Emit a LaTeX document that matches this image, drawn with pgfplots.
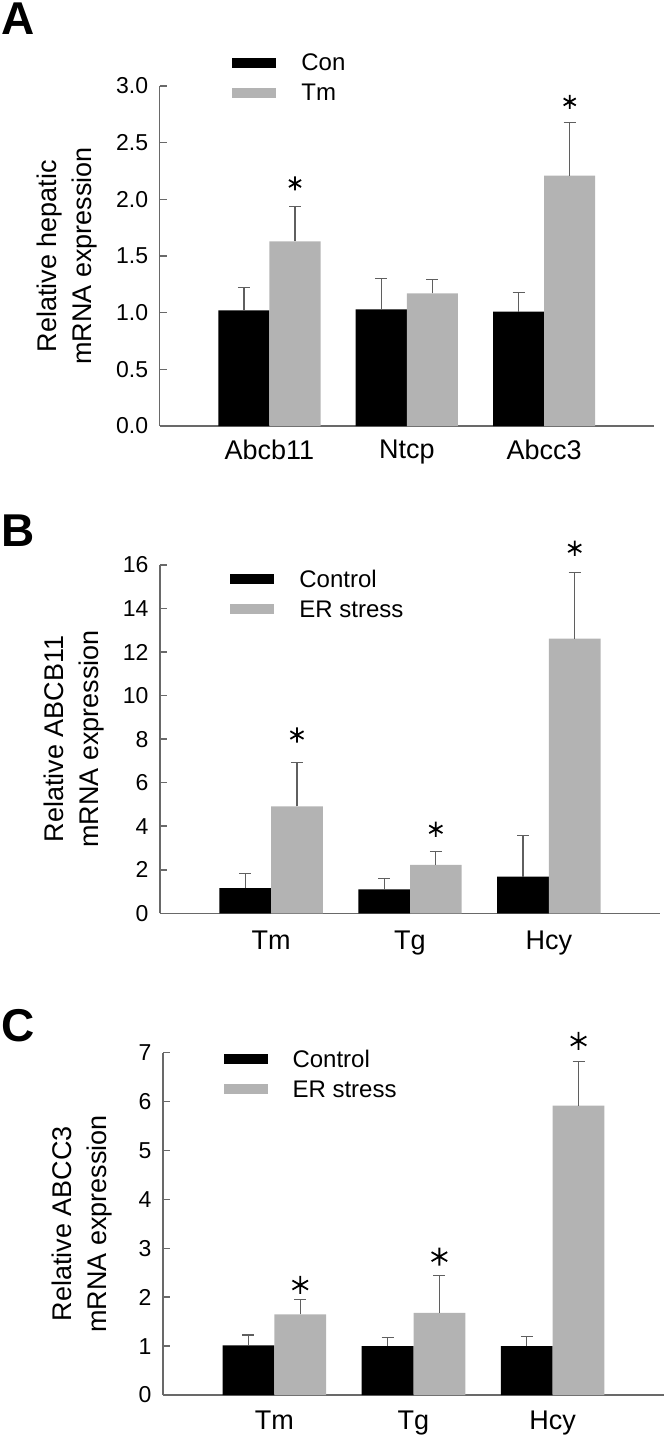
\documentclass[border=0pt]{standalone}
\usepackage{fontspec}
\setmainfont{Liberation Sans}
\usepackage{pgfplots}
\pgfplotsset{compat=1.18}

\definecolor{bargray}{RGB}{179,179,179}
\definecolor{axisgray}{RGB}{105,105,105}
\definecolor{errgray}{RGB}{95,95,95}

\pgfplotsset{
  panel/.style={
    scale only axis, anchor=south west,
    xmin=-0.8, xmax=2.8, ymin=0,
    axis x line=bottom, axis y line=left,
    axis line style={-, color=axisgray, line width=0.75pt},
    xtick={0,1,2}, xtick style={draw=none},
    ytick style={color=axisgray, line width=0.75pt},
    tick align=inside, major tick length=3.5pt,
    clip=false,
    yticklabel style={font=\fontsize{11.5}{13}\selectfont, /pgf/number format/assume math mode=true, xshift=-2.2pt},
    xticklabel style={font=\fontsize{13.5}{16}\selectfont},
    ylabel style={font=\fontsize{13.5}{17.5}\selectfont, align=center, anchor=center},
    legend cell align=left,
    legend style={draw=none, fill=none, inner sep=0pt, anchor=north west,
      row sep=3pt, column sep=12.5pt, font=\fontsize{12}{14}\selectfont,
      nodes={inner sep=0pt, text height=9pt, text depth=3pt}},
    legend image code/.code={\fill[##1] (0pt,-1.5pt) rectangle (22pt,3.5pt);},
  },
  % bars sit at x = category -/+ 0.186, so the error bars sit on them too
  errs/.style={error bars/.cd, y dir=plus, y explicit,
    error bar style={color=errgray, line width=0.6pt},
    error mark options={rotate=90, color=errgray, line width=0.6pt, mark size=3pt}},
  ctl/.style={ybar, bar width=0.372, bar shift=0pt, fill=black, draw=none, errs},
  trt/.style={ybar, bar width=0.372, bar shift=0pt, fill=bargray, draw=none, errs},
  star/.style={only marks, mark=asterisk, mark size=#1, mark options={line width=0.9pt, black}, forget plot},
}

\begin{document}
\begin{tikzpicture}
\useasboundingbox (0,0) rectangle (332pt,-720.5pt);

% panel letters
\node[anchor=base west, inner sep=0pt, font=\fontsize{23}{26}\selectfont\bfseries] at (0.5pt,-17.3pt) {A};
\node[anchor=base west, inner sep=0pt, font=\fontsize{23}{26}\selectfont\bfseries] at (0.5pt,-273.3pt) {B};
\node[anchor=base west, inner sep=0pt, font=\fontsize{23}{26}\selectfont\bfseries] at (0.5pt,-520.5pt) {C};

% A
\begin{axis}[panel, at={(79.8pt,-213pt)}, width=247.2pt, height=170pt,
  ymax=3, ytick={0,0.5,...,3},
  yticklabel style={/pgf/number format/.cd, fixed, fixed zerofill, precision=1},
  xticklabels={Abcb11,Ntcp,Abcc3},
  xticklabel style={yshift=-3.5pt},
  ylabel={Relative hepatic\\mRNA expression},
  ylabel style={at={(axis description cs:-0.187,0.5)}},
  legend style={at={(axis description cs:0.1464,1.0997)}},
]
\addplot[ctl] coordinates {(-0.186,1.02) +- (0,0.20) (0.814,1.03) +- (0,0.27) (1.814,1.01) +- (0,0.17)};
\addlegendentry{Con}
\addplot[trt] coordinates {(0.186,1.63) +- (0,0.31) (1.186,1.17) +- (0,0.12) (2.186,2.21) +- (0,0.47)};
\addlegendentry{Tm}
\addplot[star=3.5pt] coordinates {(0.186,2.14) (2.186,2.86)};
\end{axis}

% B
\begin{axis}[panel, at={(80pt,-456.65pt)}, width=250pt, height=174.15pt,
  ymax=16, ytick={0,2,...,16},
  xticklabels={Tm,Tg,Hcy},
  xticklabel style={yshift=-5.5pt},
  ylabel={Relative ABCB11\\mRNA expression},
  ylabel style={at={(axis description cs:-0.172,0.5)}},
  legend style={at={(axis description cs:0.14,0.9897)}},
]
\addplot[ctl] coordinates {(-0.186,1.16) +- (0,0.66) (0.814,1.10) +- (0,0.51) (1.814,1.68) +- (0,1.90)};
\addlegendentry{Control}
\addplot[trt] coordinates {(0.186,4.91) +- (0,2.03) (1.186,2.22) +- (0,0.63) (2.186,12.62) +- (0,3.03)};
\addlegendentry{ER stress}
\addplot[star=3.8pt] coordinates {(0.186,8.19) (1.186,3.86) (2.186,16.77)};
\end{axis}

% C
\begin{axis}[panel, at={(81.5pt,-697.5pt)}, width=250.5pt, height=171.15pt,
  ymax=7, ytick={0,1,...,7},
  xticklabels={Tm,Tg,Hcy},
  xticklabel style={yshift=-4.5pt},
  ylabel={Relative ABCC3\\mRNA expression},
  ylabel style={at={(axis description cs:-0.162,0.5)}},
  legend style={at={(axis description cs:0.12,1.012)}},
]
\addplot[ctl] coordinates {(-0.186,1.016) +- (0,0.21) (0.814,1.00) +- (0,0.17) (1.814,1.00) +- (0,0.19)};
\addlegendentry{Control}
\addplot[trt] coordinates {(0.186,1.65) +- (0,0.31) (1.186,1.68) +- (0,0.76) (2.186,5.92) +- (0,0.90)};
\addlegendentry{ER stress}
\addplot[star=4.5pt] coordinates {(0.186,2.25) (1.186,2.83) (2.186,7.24)};
\end{axis}
\end{tikzpicture}
\end{document}
